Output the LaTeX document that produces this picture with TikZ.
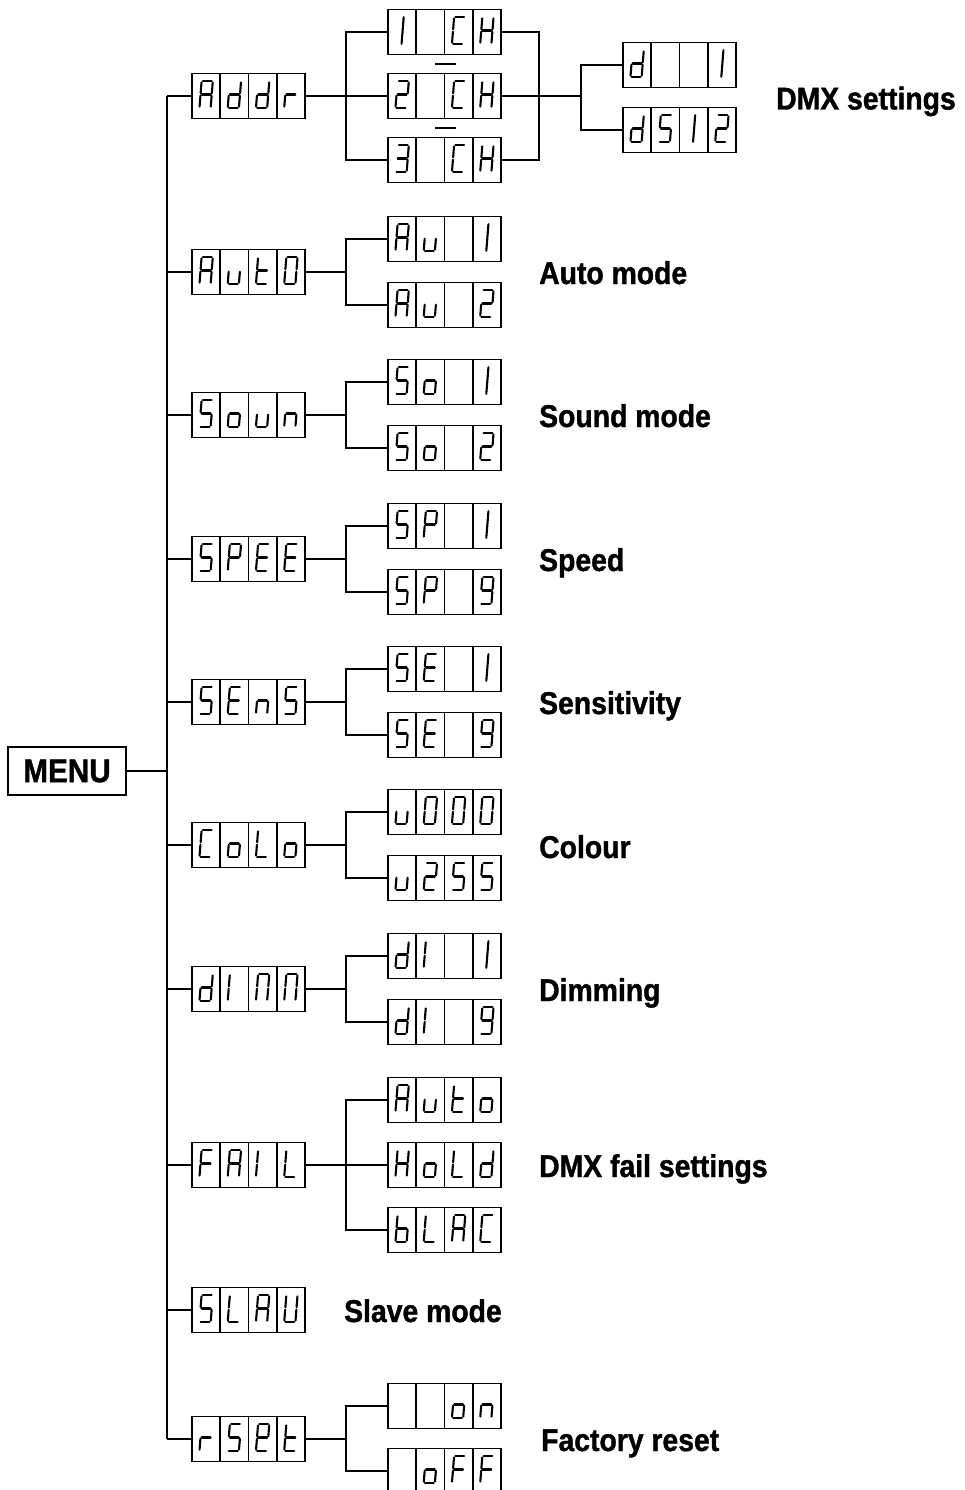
\documentclass[tikz,border=0pt]{standalone}
\usepackage{fontspec}
\setmainfont{Liberation Sans}[FakeStretch=0.9, BoldFeatures={FakeBold=1.2}]
\usetikzlibrary{calc}

\tikzset{
  box/.style={draw, line width=1.9pt, minimum width=113pt, minimum height=45pt, inner sep=0pt, outer sep=0pt},
  seg/.style={line width=2.1pt, line cap=round},
  conn/.style={line width=1.9pt},
  lbl/.style={font=\fontsize{31.5}{36}\selectfont\bfseries, inner sep=0pt, anchor=base west},
}

% segment paths (local, y downwards)
\def\Sga{(-4.4,-13.3) -- (4.4,-13.3)}
\def\Sgb{(5.6,-12.1) -- (5.6,-1.2)}
\def\Sgc{(5.6,1.2) -- (5.6,12.1)}
\def\Sgd{(-4.4,13.3) -- (4.4,13.3)}
\def\Sge{(-5.6,1.2) -- (-5.6,12.1)}
\def\Sgf{(-5.6,-12.1) -- (-5.6,-1.2)}
\def\Sgg{(-4.4,0) -- (4.4,0)}
\def\Sgi{(0.5,-13.3) -- (0.5,13.3)}
\def\Sgz{(0,0)}

\newcommand\defch[2]{\expandafter\def\csname chr#1\endcsname{#2}}
\defch{A}{a,b,c,e,f,g}
\defch{d}{b,c,d,e,g}
\defch{r}{e,g}
\defch{1}{i}
\defch{2}{a,b,g,e,d}
\defch{3}{a,b,g,c,d}
\defch{5}{a,f,g,c,d}
\defch{9}{a,b,c,d,f,g}
\defch{0}{a,b,c,d,e,f}
\defch{C}{a,f,e,d}
\defch{H}{b,c,e,f,g}
\defch{u}{c,d,e}
\defch{t}{f,e,d,g}
\defch{o}{c,d,e,g}
\defch{n}{c,e,g}
\defch{P}{a,b,f,g,e}
\defch{E}{a,f,g,e,d}
\defch{e}{a,b,f,g,e,d}
\defch{L}{f,e,d}
\defch{I}{e,f}
\defch{M}{a,b,c,e,f}
\defch{F}{a,f,g,e}
\defch{b}{f,e,d,c,g}
\defch{U}{b,c,d,e,f}
\defch{x}{z}

% display: #1 name, #2 centre, #3 four characters
\newcommand\disp[3]{%
  \node[box] (#1) at (#2) {};
  \foreach \k in {1,2,3}{\draw[line width=1.9pt] ($(#1.north west)+(\k*28.25,0)$) -- ($(#1.south west)+(\k*28.25,0)$);}
  \foreach \ch [count=\k] in {#3}{%
    \edef\seglist{\csname chr\ch\endcsname}%
    \begin{scope}[shift={($(#1.west)+(\k*28.25-14.125,-1.5)$)},xslant=0.08]
      \foreach \s in \seglist {\draw[seg] \csname Sg\s\endcsname;}
    \end{scope}}%
}

\begin{document}
\begin{tikzpicture}[x=1pt,y=-1pt]
\useasboundingbox (0,0) rectangle (965,1490);
\clip (0,0) rectangle (965,1490);

% MENU
\node[draw, line width=1.9pt, minimum width=118pt, minimum height=48pt, inner sep=0pt,
      font=\fontsize{33}{36}\selectfont\bfseries] (menu) at (67,771) {MENU};

% level 1
\disp{addr}{248.5,96}{A,d,d,r}
\disp{auto}{248.5,272}{A,u,t,0}
\disp{soun}{248.5,415}{5,o,u,n}
\disp{spee}{248.5,559}{5,P,E,E}
\disp{sens}{248.5,702}{5,E,n,5}
\disp{colo}{248.5,845}{C,o,L,o}
\disp{dimm}{248.5,989}{d,I,M,M}
\disp{fail}{248.5,1165}{F,A,I,L}
\disp{slau}{248.5,1310}{5,L,A,U}
\disp{rset}{248.5,1439}{r,5,e,t}

% level 2
\disp{ch1}{444.5,32}{1,x,C,H}
\disp{ch2}{444.5,96}{2,x,C,H}
\disp{ch3}{444.5,160}{3,x,C,H}
\disp{au1}{444.5,239}{A,u,x,1}
\disp{au2}{444.5,305}{A,u,x,2}
\disp{so1}{444.5,382}{5,o,x,1}
\disp{so2}{444.5,448}{5,o,x,2}
\disp{sp1}{444.5,526}{5,P,x,1}
\disp{sp9}{444.5,592}{5,P,x,9}
\disp{se1}{444.5,669}{5,E,x,1}
\disp{se9}{444.5,735}{5,E,x,9}
\disp{u000}{444.5,812}{u,0,0,0}
\disp{u255}{444.5,878}{u,2,5,5}
\disp{di1}{444.5,956}{d,I,x,1}
\disp{di9}{444.5,1022}{d,I,x,9}
\disp{fauto}{444.5,1100}{A,u,t,o}
\disp{fhold}{444.5,1165}{H,o,L,d}
\disp{fblac}{444.5,1230}{b,L,A,C}
\disp{ron}{444.5,1406}{x,x,o,n}
\disp{roff}{444.5,1471}{x,o,F,F}

% level 3
\disp{d1}{679.5,65}{d,x,x,1}
\disp{d512}{679.5,130}{d,5,1,2}

% connectors
\coordinate (tk) at (167,0);
\coordinate (bx) at (346,0);
\coordinate (rx) at (539,0);
\coordinate (r2) at (581,0);
\draw[conn] (menu.east) -- (menu.east -| tk);
\draw[conn] (addr.west -| tk) -- (rset.west -| tk);
\foreach \n in {addr,auto,soun,spee,sens,colo,dimm,fail,slau,rset}
  \draw[conn] (\n.west -| tk) -- (\n.west);

\draw[conn] (addr.east) -- (ch2.west);
\draw[conn] (ch1.west) -- (ch1.west -| bx) -- (ch3.west -| bx) -- (ch3.west);
\draw[conn] (ch1.east) -- (ch1.east -| rx) -- (ch3.east -| rx) -- (ch3.east);
\draw[conn] (ch2.east) -- (ch2.east -| r2);
\draw[conn] (d1.west) -- (d1.west -| r2) -- (d512.west -| r2) -- (d512.west);

\foreach \p/\a/\b in {auto/au1/au2, soun/so1/so2, spee/sp1/sp9, sens/se1/se9,
                      colo/u000/u255, dimm/di1/di9, rset/ron/roff}{
  \draw[conn] (\p.east) -- (\p.east -| bx);
  \draw[conn] (\a.west) -- (\a.west -| bx) -- (\b.west -| bx) -- (\b.west);
}
\draw[conn] (fail.east) -- (fhold.west);
\draw[conn] (fauto.west) -- (fauto.west -| bx) -- (fblac.west -| bx) -- (fblac.west);

% range dashes
\draw[line width=1.5pt] (435,64) -- (456,64);
\draw[line width=1.5pt] (435,128) -- (456,128);

% labels
\node[lbl] (l1) at (776,109.5) {DMX settings};
\node[lbl] (l2) at (539,284) {Auto mode};
\node[lbl] (l3) at (539,427) {Sound mode};
\node[lbl] (l4) at (539,571) {Speed};
\node[lbl] (l5) at (539,714) {Sensitivity};
\node[lbl] (l6) at (539,858) {Colour};
\node[lbl] (l7) at (539,1001) {Dimming};
\node[lbl] (l8) at (539,1177) {DMX fail settings};
\node[lbl] (l9) at (344,1322) {Slave mode};
\node[lbl] (l10) at (541,1451) {Factory reset};
\end{tikzpicture}
\end{document}
